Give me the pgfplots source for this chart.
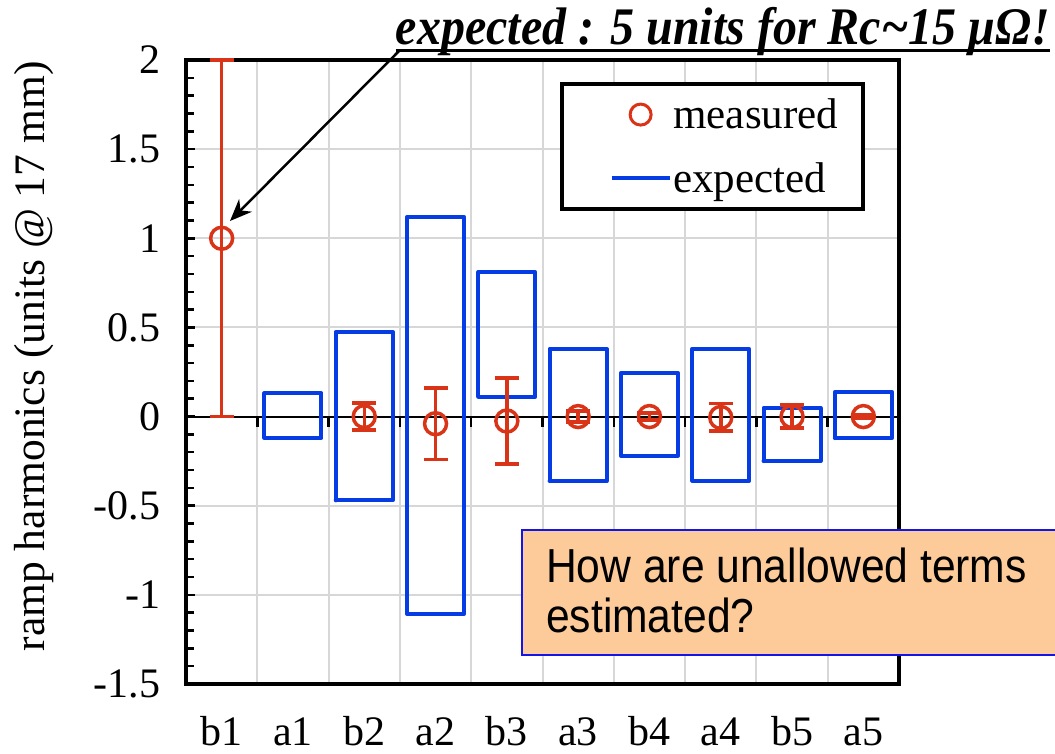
\documentclass[border=0pt]{standalone}
\usepackage{pgfplots}
\pgfplotsset{compat=1.18}
\usetikzlibrary{arrows.meta}
\usepackage{fontspec}
\setmainfont{Liberation Serif}
\newfontfamily\sansf{Liberation Sans}
\definecolor{mred}{RGB}{218,52,24}
\definecolor{mblue}{RGB}{5,60,228}
\definecolor{peach}{RGB}{252,203,153}
\definecolor{boxblue}{RGB}{20,20,230}
\definecolor{gridgray}{RGB}{215,215,215}
\begin{document}
\begin{tikzpicture}[x=1pt,y=1pt]
\useasboundingbox (0,0) rectangle (1055,754);
\begin{axis}[
  at={(186pt,70pt)}, anchor=south west,
  scale only axis, width=713pt, height=624pt,
  xmin=-0.5, xmax=9.5, ymin=-1.5, ymax=2,
  clip=false,
  axis line style={line width=4.5pt, black},
  xtick={0.5,1.5,...,8.5}, xticklabels={},
  major x tick style={draw=none},
  extra x ticks={0,1,2,3,4,5,6,7,8,9},
  extra x tick labels={b1,a1,b2,a2,b3,a3,b4,a4,b5,a5},
  extra x tick style={grid=none, major tick length=0pt},
  xmajorgrids, ymajorgrids,
  grid style={gridgray, line width=2pt},
  ytick={-1.5,-1,-0.5,0,0.5,1,1.5,2},
  minor y tick num=4,
  ytick pos=left, tick align=inside,
  major tick length=9pt, minor tick length=8pt,
  tick style={line width=2.5pt, black},
  /pgf/number format/assume math mode=true,
  tick label style={font=\fontsize{42}{46}\selectfont},
  yticklabel style={xshift=-22pt},
  xticklabel style={inner ysep=0pt, anchor=base, yshift=-62pt},
  ylabel={ramp harmonics (units @ 17 mm)},
  ylabel style={font=\fontsize{43.5}{48}\selectfont, at={(axis description cs:-0.213,0.525)}, anchor=center},
  legend style={at={(axis cs:4.74,1.877)}, anchor=north west, draw=black, line width=4pt,
    font=\fontsize{43}{47}\selectfont, inner xsep=23pt, inner ysep=13pt, row sep=28pt},
  legend cell align=left,
]
\addlegendimage{legend image code/.code={\path[draw=none] (0pt,0pt) -- (85pt,0pt); \draw[mred, line width=3pt] (56pt,0pt) circle (10.5pt);}}
\addlegendentry{measured}
\addlegendimage{legend image code/.code={\path[draw=none] (0pt,0pt) -- (27pt,0pt); \draw[mblue, line width=3.5pt] (27pt,0pt) -- (85pt,0pt);}}
\addlegendentry{expected}

% zero line with ticks
\draw[black, line width=2pt] (axis cs:-0.5,0) -- (axis cs:9.5,0);
\pgfplotsinvokeforeach{0.5,1.5,2.5,3.5,4.5,5.5,6.5,7.5,8.5}{
  \draw[black, line width=2.5pt] (axis cs:#1,0) -- ++(0pt,-10pt);
}

% expected ranges (rectangles, half width 0.4)
\addplot[mblue, line width=4pt, line join=round, line cap=round, unbounded coords=jump, forget plot] coordinates {
(0.6,-0.12) (1.4,-0.12) (1.4,0.13) (0.6,0.13) (0.6,-0.12) (0.6,nan)
(1.6,-0.47) (2.4,-0.47) (2.4,0.475) (1.6,0.475) (1.6,-0.47) (1.6,nan)
(2.6,-1.107) (3.4,-1.107) (3.4,1.12) (2.6,1.12) (2.6,-1.107) (2.6,nan)
(3.6,0.112) (4.4,0.112) (4.4,0.81) (3.6,0.81) (3.6,0.112) (3.6,nan)
(4.6,-0.362) (5.4,-0.362) (5.4,0.38) (4.6,0.38) (4.6,-0.362) (4.6,nan)
(5.6,-0.219) (6.4,-0.219) (6.4,0.245) (5.6,0.245) (5.6,-0.219) (5.6,nan)
(6.6,-0.36) (7.4,-0.36) (7.4,0.38) (6.6,0.38) (6.6,-0.36) (6.6,nan)
(7.6,-0.25) (8.4,-0.25) (8.4,0.049) (7.6,0.049) (7.6,-0.25) (7.6,nan)
(8.6,-0.121) (9.4,-0.121) (9.4,0.139) (8.6,0.139) (8.6,-0.121)
};

% measured values with error bars
\addplot[mred, only marks, mark=o, mark size=11pt, line width=3.5pt, forget plot,
  error bars/.cd, y dir=both, y explicit,
  error bar style={line width=3.5pt, mred},
  error mark options={rotate=90, mark size=12pt, line width=3.5pt, mred}]
coordinates {
(0,1) +- (0,1)
(2,0) +- (0,0.075)
(3,-0.04) +- (0,0.2)
(4,-0.025) +- (0,0.24)
(5,0) +- (0,0.03)
(6,0) +- (0,0.02)
(7,-0.005) +- (0,0.077)
(8,0) +- (0,0.065)
(9,0) +- (0,0.01)
};
\end{axis}

% annotation
\node[anchor=base east, font=\fontsize{48}{52}\selectfont\bfseries\itshape, inner sep=0pt, yscale=1.1] (ann) at (1050,709) {expected : 5 units for Rc\textasciitilde 15 μΩ!};
\draw[black, line width=3pt] ([yshift=-6pt]ann.base west) -- ([yshift=-6pt]ann.base east);
\draw[black, line width=2.5pt, -{Stealth[length=22pt, width=18pt]}] (399,703) -- (230,533);

% question box
\draw[boxblue, line width=2pt, fill=peach] (522,224) rectangle (1062,99);
\node[anchor=base west, font=\sansf\fontsize{42.6}{46}\selectfont, inner sep=0pt, yscale=1.12] at (546,171) {How are unallowed terms};
\node[anchor=base west, font=\sansf\fontsize{42.6}{46}\selectfont, inner sep=0pt, yscale=1.12] at (546,121) {estimated?};
\end{tikzpicture}
\end{document}
